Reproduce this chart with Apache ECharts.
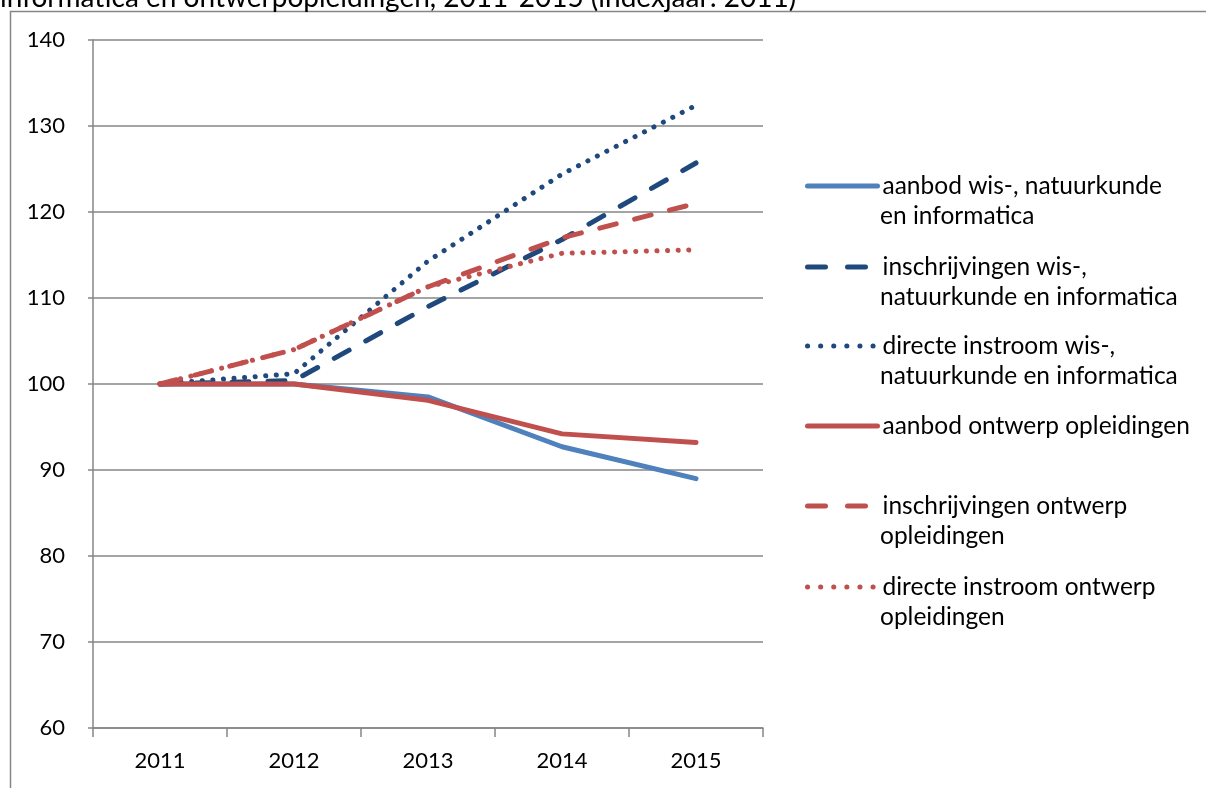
<!DOCTYPE html>
<html>
<head>
<meta charset="utf-8">
<script src="https://cdn.jsdelivr.net/npm/echarts@6/dist/echarts.min.js"></script>
<style>
  html, body { margin: 0; padding: 0; background: #fff; }
  #chart { width: 1206px; height: 788px; }
</style>
</head>
<body>
<div id="chart"></div>
<script>
// index values, 2011 = 100
const years = ['2011', '2012', '2013', '2014', '2015']
const aanbodWis = [100, 100, 98.5, 92.7, 89.0]
const inschrijvingenWis = [100, 100.4, 109.0, 116.8, 125.7]
const instroomWis = [100, 101.2, 114.3, 124.4, 132.4]
const aanbodOntwerp = [100, 100, 98.1, 94.2, 93.2]
const inschrijvingenOntwerp = [100, 104.0, 111.3, 117.0, 121.0]
const instroomOntwerp = [100, 104.0, 111.3, 115.2, 115.6]

const names = [
  'aanbod wis-, natuurkunde\nen informatica',
  'inschrijvingen wis-,\nnatuurkunde en informatica',
  'directe instroom wis-,\nnatuurkunde en informatica',
  'aanbod ontwerp opleidingen',
  'inschrijvingen ontwerp\nopleidingen',
  'directe instroom ontwerp\nopleidingen'
]

const FONT = 'Lato'
const LEGEND_FONT = 24.5
const GRID = '#868686'
const BLUE = '#4F81BD'
const DARK_BLUE = '#1F497D'
const RED = '#C0504D'
const DASH = [17, 19]
const DOT = [0.1, 10.5]
// the legend symbols use a slightly longer pattern (2 dashes / 6 dots)
const styles = ['solid', DASH, DOT, 'solid', DASH, DOT]
const legendStyles = ['solid', [18, 22], [0.1, 13], 'solid', [18, 22], [0.1, 13]]

function line (name, data, color, width, dash) {
  return {
    name: name,
    type: 'line',
    data: data,
    symbol: 'none',
    silent: true,
    lineStyle: { color: color, width: width, type: dash, cap: 'round', join: 'round' },
    itemStyle: { color: color }
  }
}

// one legend per entry; the legend shows the first text line next to the symbol,
// a continuation line (if any) is written underneath, like Excel does
const LEGEND_LEFT = 805
const LEGEND_ICON_W = 70
const legendIconY = [186, 267, 346, 426, 506, 587]
const legends = names.map((n, i) => ({
  data: [n],
  left: LEGEND_LEFT,
  top: legendIconY[i] - 15,
  padding: 0,
  itemWidth: LEGEND_ICON_W,
  itemHeight: 14,
  selectedMode: false,
  itemStyle: { opacity: 0 },
  lineStyle: { width: 5, cap: 'round', type: legendStyles[i] },
  formatter: name => name.split('\n')[0],
  textStyle: { fontFamily: FONT, fontSize: LEGEND_FONT, color: '#000', lineHeight: 30 }
}))
const legendSecondLines = []
names.forEach((n, i) => {
  const parts = n.split('\n')
  if (parts.length > 1) {
    legendSecondLines.push({
      type: 'text',
      x: LEGEND_LEFT + LEGEND_ICON_W + 5,
      y: legendIconY[i] + 30,
      silent: true,
      style: {
        text: parts[1],
        font: LEGEND_FONT + 'px ' + FONT,
        fill: '#000',
        verticalAlign: 'middle'
      }
    })
  }
})

const chart = echarts.init(document.getElementById('chart'))
chart.setOption({
  animation: false,
  backgroundColor: '#fff',
  title: {
    text: 'informatica en ontwerpopleidingen, 2011-2015 (indexjaar: 2011)',
    left: 0,
    top: -16,
    padding: 0,
    textStyle: { fontFamily: FONT, fontSize: 28, fontWeight: 'normal', color: '#000' }
  },
  graphic: [{
    type: 'rect',
    shape: { x: 10.5, y: 11.5, width: 1220, height: 800 },
    style: { fill: 'none', stroke: GRID, lineWidth: 1.5 },
    silent: true,
    z: -1
  }].concat(legendSecondLines),
  legend: legends,
  grid: { left: 93, top: 40, width: 670, height: 688, containLabel: false },
  xAxis: {
    type: 'category',
    data: years,
    boundaryGap: true,
    axisLine: { lineStyle: { color: GRID, width: 1.5 } },
    axisTick: { show: true, length: 9, lineStyle: { color: GRID, width: 1.5 } },
    axisLabel: { fontFamily: FONT, fontSize: 22, color: '#000', margin: 22 },
    splitLine: { show: false }
  },
  yAxis: {
    type: 'value',
    min: 60,
    max: 140,
    interval: 10,
    axisLine: { show: true, lineStyle: { color: GRID, width: 1.5 } },
    axisTick: { show: true, length: 5, lineStyle: { color: GRID, width: 1.5 } },
    axisLabel: { fontFamily: FONT, fontSize: 22, color: '#000', margin: 28 },
    splitLine: { show: true, lineStyle: { color: GRID, width: 1.5 } }
  },
  series: [
    line(names[0], aanbodWis, BLUE, 5, styles[0]),
    line(names[1], inschrijvingenWis, DARK_BLUE, 5, styles[1]),
    line(names[2], instroomWis, DARK_BLUE, 5, styles[2]),
    line(names[3], aanbodOntwerp, RED, 5, styles[3]),
    line(names[4], inschrijvingenOntwerp, RED, 5, styles[4]),
    line(names[5], instroomOntwerp, RED, 5, styles[5])
  ]
})
</script>
</body>
</html>
